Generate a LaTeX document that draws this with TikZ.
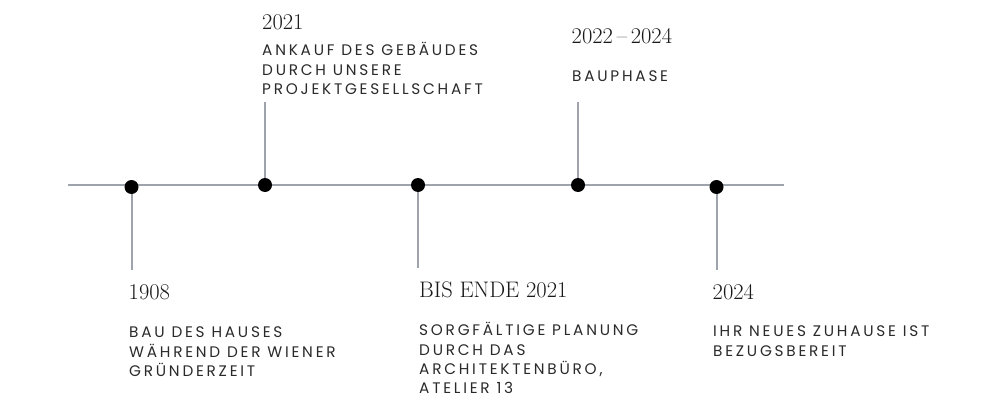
\documentclass[tikz,border=0pt]{standalone}
\usepackage{fontspec}
\newfontfamily\labelfont[LetterSpace=18]{Poppins}
\usetikzlibrary{positioning}
\definecolor{linegrey}{HTML}{9EA3AC}
\definecolor{textgrey}{HTML}{2A2A2A}
\tikzstyle{dotnode} = [circle, 
fill=black, 
minimum size=14pt, 
inner sep=0pt]
\tikzstyle{yearnode} = [anchor=base west, 
inner sep=0pt, 
text=black!90,
font=\fontsize{22.5}{26}\selectfont]
% base of a multi-line text is its last line
\tikzstyle{textnode} = [anchor=base west, 
inner sep=0pt, 
align=left, 
text=textgrey,
font=\labelfont\fontsize{15.3}{19.3}\selectfont]
\tikzstyle{axisline} = [linegrey, line width=2pt]

\begin{document}
\begin{tikzpicture}[x=1pt, y=-1pt]
\useasboundingbox (0,0) rectangle (1000,404);

\coordinate (start) at (68,185);
\coordinate (end) at (784,185);

\draw [axisline] (start) -- (end);

\node (dot1) [dotnode] at (131.5,187) {};

\node (dot2) [dotnode] at (265,185) {};

\node (dot3) [dotnode] at (418,185) {};

\node (dot4) [dotnode] at (578,185) {};

\node (dot5) [dotnode] at (716.5,187) {};

\coordinate (stem1) at (131.5,270);
\coordinate (stem2) at (265,101.5);
\coordinate (stem3) at (418,268);
\coordinate (stem4) at (578,101.5);
\coordinate (stem5) at (716.5,270);

\draw [axisline] (dot1) -- (stem1);
\draw [axisline] (dot2) -- (stem2);
\draw [axisline] (dot3) -- (stem3);
\draw [axisline] (dot4) -- (stem4);
\draw [axisline] (dot5) -- (stem5);

\node (year1) [yearnode] at (128.5,299.5) {1908};
\node (text1) [textnode] at (129,376.5) {BAU DES HAUSES\\WÄHREND DER WIENER\\GRÜNDERZEIT};

\node (year2) [yearnode] at (262,30) {2021};
\node (text2) [textnode] at (262,94.3) {ANKAUF DES GEBÄUDES\\DURCH UNSERE\\PROJEKTGESELLSCHAFT};

\node (year3) [yearnode] at (419,297) {BIS ENDE 2021};
\node (text3) [textnode] at (419,393.8) {SORGFÄLTIGE PLANUNG\\DURCH DAS\\ARCHITEKTENBÜRO,\\ATELIER 13};

\node (year4) [yearnode] at (571.5,44) {2022\,–\,2024};
\node (text4) [textnode] at (572,81.5) {BAUPHASE};

\node (year5) [yearnode] at (712.5,299.5) {2024};
\node (text5) [textnode] at (713,356) {IHR NEUES ZUHAUSE IST\\BEZUGSBEREIT};

\end{tikzpicture}
\end{document}
